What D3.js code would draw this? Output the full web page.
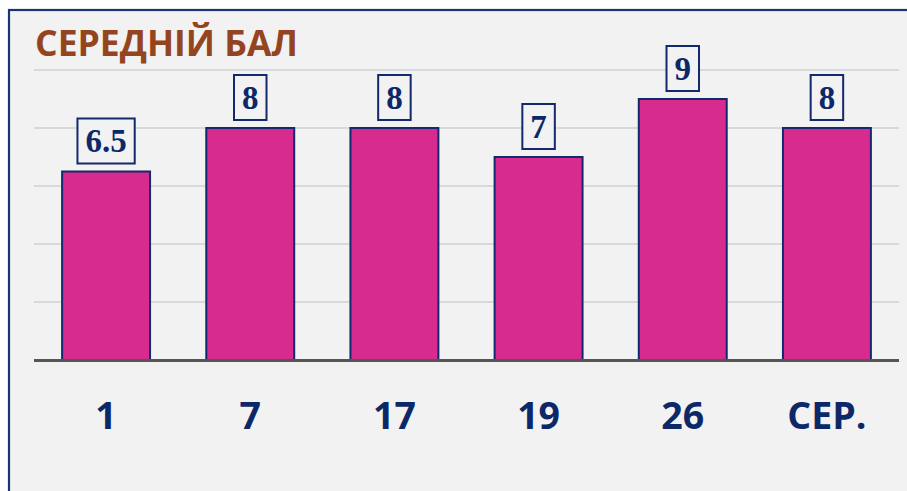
<!DOCTYPE html>
<html>
<head>
<meta charset="utf-8">
<script src="https://cdn.jsdelivr.net/npm/d3@7"></script>
<style>
  html, body { margin: 0; padding: 0; background: #ffffff; }
  svg { display: block; }
</style>
</head>
<body>
<svg id="chart" width="907" height="491"></svg>
<script>
// Average score per class, plus the overall average
const categories = ["1", "7", "17", "19", "26", "СЕР."];
const values = [6.5, 8, 8, 7, 9, 8];
const gridTicks = [2, 4, 6, 8, 10];
const title = "СЕРЕДНІЙ БАЛ";

const svg = d3.select("#chart");
const W = 907, H = 491;

// panel background and frame (extends past the right and bottom edges)
svg.append("rect")
  .attr("x", 9).attr("y", 10)
  .attr("width", W + 20).attr("height", H + 20)
  .attr("fill", "#f2f2f2")
  .attr("stroke", "#1b3474")
  .attr("stroke-width", 2.2);

svg.append("text")
  .attr("x", 35).attr("y", 55.5)
  .attr("font-family", "'Open Sans', 'Liberation Sans', sans-serif")
  .attr("font-weight", 700)
  .attr("font-size", 35.5)
  .attr("fill", "#94441f")
  .attr("textLength", 263)
  .attr("lengthAdjust", "spacingAndGlyphs")
  .text(title);

const x = d3.scaleBand()
  .domain(categories)
  .range([34, 899])
  .paddingInner(0.39)
  .paddingOuter(0.195);

const y = d3.scaleLinear()
  .domain([0, 10])
  .range([360, 70]);

// horizontal gridlines
svg.append("g")
  .selectAll("line")
  .data(gridTicks)
  .join("line")
  .attr("x1", 34).attr("x2", 899)
  .attr("y1", d => y(d)).attr("y2", d => y(d))
  .attr("stroke", "#d0d0d0")
  .attr("stroke-width", 1.5);

// bars
svg.append("g")
  .selectAll("rect")
  .data(values)
  .join("rect")
  .attr("x", (d, i) => x(categories[i]))
  .attr("y", d => y(d))
  .attr("width", x.bandwidth())
  .attr("height", d => y(0) - y(d))
  .attr("fill", "#d82b8f")
  .attr("stroke", "#13296b")
  .attr("stroke-width", 2);

// baseline axis
svg.append("line")
  .attr("x1", 34).attr("x2", 899)
  .attr("y1", y(0) + 0.5).attr("y2", y(0) + 0.5)
  .attr("stroke", "#555555")
  .attr("stroke-width", 3);

// category labels
svg.append("g")
  .selectAll("text")
  .data(categories)
  .join("text")
  .attr("x", d => x(d) + x.bandwidth() / 2)
  .attr("y", 428.5)
  .attr("text-anchor", "middle")
  .attr("font-family", "'Open Sans', 'Liberation Sans', sans-serif")
  .attr("font-weight", 700)
  .attr("font-size", 37.5)
  .attr("fill", "#0c2868")
  .text(d => d);

// value labels in boxes
const labels = svg.append("g")
  .selectAll("g")
  .data(values)
  .join("g")
  .attr("transform", (d, i) => `translate(${x(categories[i]) + x.bandwidth() / 2},${y(d) - 8})`);

labels.each(function (d) {
  const g = d3.select(this);
  const t = g.append("text")
    .attr("x", 0).attr("y", -11.5)
    .attr("text-anchor", "middle")
    .attr("font-family", "'Liberation Serif', 'Times New Roman', serif")
    .attr("font-weight", 700)
    .attr("font-size", 33)
    .attr("fill", "#0c2868")
    .text(String(d));
  const w = t.node().getComputedTextLength();
  g.insert("rect", "text")
    .attr("x", -w / 2 - 8).attr("y", -45)
    .attr("width", w + 16).attr("height", 45)
    .attr("fill", "#f2f2f2")
    .attr("stroke", "#13296b")
    .attr("stroke-width", 2);
});
</script>
</body>
</html>
